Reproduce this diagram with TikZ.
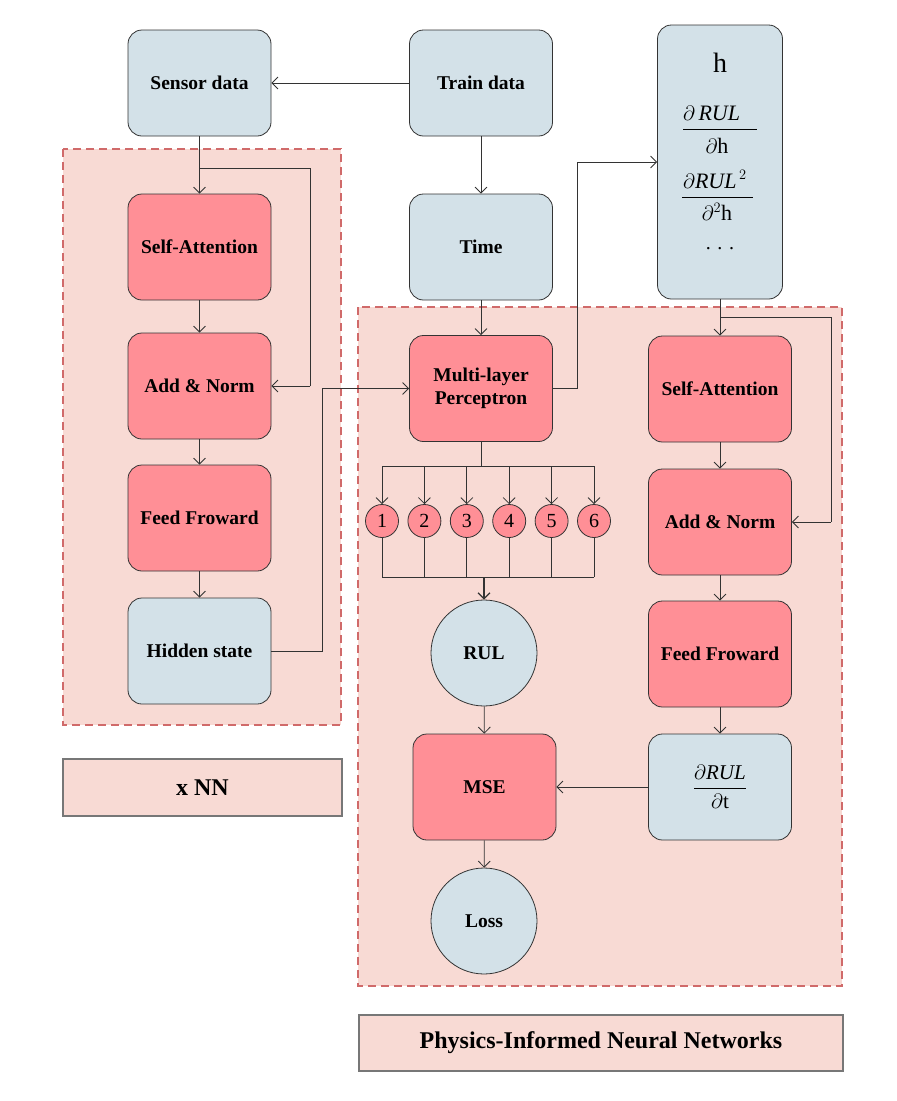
\documentclass[tikz,border=0pt]{standalone}
\usepackage{amsmath}
\usepackage{fontspec}
\setmainfont{Liberation Serif}
\usetikzlibrary{arrows.meta}
\definecolor{bluefill}{HTML}{D3E1E8}
\definecolor{pinkfill}{HTML}{FF8F96}
\definecolor{regionfill}{HTML}{F8DAD4}
\definecolor{dashcol}{HTML}{D06A6A}
\definecolor{linecol}{HTML}{333333}
\definecolor{legendborder}{HTML}{777777}
\begin{document}
\begin{tikzpicture}[x=1pt,y=-1pt,
  box/.style={draw=black!80, line width=0.8pt, rounded corners=14pt, minimum width=143pt, minimum height=106pt, inner sep=2pt, align=center, font=\fontsize{19.5}{23}\selectfont\bfseries},
  bluebox/.style={box, fill=bluefill},
  pinkbox/.style={box, fill=pinkfill},
  bigcirc/.style={circle, draw=black!80, line width=0.8pt, fill=bluefill, minimum size=106pt, inner sep=0pt, font=\fontsize{19.5}{23}\selectfont\bfseries},
  numcirc/.style={circle, draw=black!80, line width=0.8pt, fill=pinkfill, minimum size=33pt, inner sep=0pt, font=\fontsize{20}{22}\selectfont},
  region/.style={fill=regionfill, draw=dashcol, line width=1.4pt, dash pattern=on 8pt off 5pt},
  legend/.style={draw=legendborder, line width=1.6pt, fill=regionfill, inner sep=0pt, font=\fontsize{24}{27}\selectfont\bfseries},
  mathtxt/.style={inner sep=0pt, font=\fontsize{22}{24}\selectfont},
  fracline/.style={draw=black, line width=0.8pt},
  conn/.style={draw=linecol, line width=0.8pt},
  arr/.style={conn, -{Straight Barb[length=6pt,width=12pt]}},
]
\useasboundingbox (0,0) rectangle (897,1101);
% regions
\path[region] (63,149) rectangle (341,725);
\path[region] (358,307) rectangle (842,986);
% top row
\node[bluebox] (sensor) at (199.5,83) {Sensor data};
\node[bluebox] (train) at (481,83) {Train data};
\node[bluebox, minimum width=125pt, minimum height=274pt] (hbox) at (720,162) {};
\node[inner sep=0pt, font=\fontsize{28}{30}\selectfont] (htxt) at (720,63) {h};
% first fraction
\node[mathtxt, anchor=base west] (n1) at (683,120) {$\partial\,\textit{RUL}$};
\draw[fracline] (683,129) -- (757,129);
\node[mathtxt, anchor=base] (m1) at (717,153) {$\partial\text{h}$};
% second fraction
\node[mathtxt, anchor=base west] (n2) at (683,188) {$\partial\textit{RUL}^{\,2}$};
\draw[fracline] (682,197) -- (753,197);
\node[mathtxt, anchor=base] (m2) at (717,220) {$\partial^2\text{h}$};
\node[inner sep=0pt, font=\fontsize{20}{22}\selectfont] (dots) at (720,249) {. . .};
% left column
\node[pinkbox] (sa1) at (199.5,247) {Self-Attention};
\node[pinkbox] (an1) at (199.5,386) {Add \& Norm};
\node[pinkbox] (ff1) at (199.5,518) {Feed Froward};
\node[bluebox] (hs) at (199.5,651) {Hidden state};
% middle column
\node[bluebox] (time) at (481,247) {Time};
\node[pinkbox] (mlp) at (481,388.5) {Multi-layer\\Perceptron};
\foreach \i in {1,...,6} {
  \node[numcirc] (c\i) at ({382+42.4*(\i-1)},521) {\i};
}
\node[bigcirc] (rul) at (484,653) {RUL};
\node[pinkbox] (mse) at (484.5,787) {MSE};
\node[bigcirc] (loss) at (484,921) {Loss};
% right column
\node[pinkbox] (sa2) at (720,389) {Self-Attention};
\node[pinkbox] (an2) at (720,522) {Add \& Norm};
\node[pinkbox] (ff2) at (720,654) {Feed Froward};
\node[bluebox, font=\fontsize{21}{24}\selectfont] (drdt) at (720,787) {$\dfrac{\partial\textit{RUL}}{\partial\text{t}}$};
% legends
\node[legend, minimum width=279pt, minimum height=57pt] (xnn) at (202.5,787.5) {x NN\hspace{11pt}};
\node[legend, minimum width=484pt, minimum height=56pt] (pinn) at (601,1043) {Physics-Informed Neural Networks};
% connectors
\draw[arr] (train) -- (sensor);
\draw[arr] (train) -- (time);
\draw[arr] (time) -- (mlp);
\draw[arr] (sensor) -- (sa1);
\coordinate (sk1) at (199.5,168);
\draw[conn] (sk1) -| ([xshift=39pt]an1.east);
\draw[arr] ([xshift=39pt]an1.east) -- (an1.east);
\draw[arr] (sa1) -- (an1);
\draw[arr] (an1) -- (ff1);
\draw[arr] (ff1) -- (hs);
\draw[arr] (hs.east) -- ++(51,0) |- (mlp.west);
\draw[arr] (mlp.east) -- ++(24,0) |- (hbox.west);
\draw[arr] (hbox) -- (sa2);
\coordinate (sk2) at (720,317);
\draw[conn] (sk2) -| ([xshift=39pt]an2.east);
\draw[arr] ([xshift=39pt]an2.east) -- (an2.east);
\draw[arr] (sa2) -- (an2);
\draw[arr] (an2) -- (ff2);
\draw[arr] (ff2) -- (drdt);
\draw[arr] (drdt) -- (mse);
\draw[arr] (rul) -- (mse);
\draw[arr] (mse) -- (loss);
% MLP fan out
\coordinate (bt) at (481,466);
\draw[conn] (mlp.south) -- (bt);
\draw[conn] (c1 |- bt) -- (c6 |- bt);
\foreach \i in {1,...,6} {
  \draw[arr] (c\i |- bt) -- (c\i.north);
}
\coordinate (bb) at (484,577);
\foreach \i in {1,...,6} {
  \draw[conn] (c\i.south) -- (c\i |- bb);
}
\draw[conn] (c1 |- bb) -- (c6 |- bb);
\draw[conn, line width=1.2pt, -{Straight Barb[length=6pt,width=12pt]}] (bb) -- (rul.north);
\end{tikzpicture}
\end{document}
